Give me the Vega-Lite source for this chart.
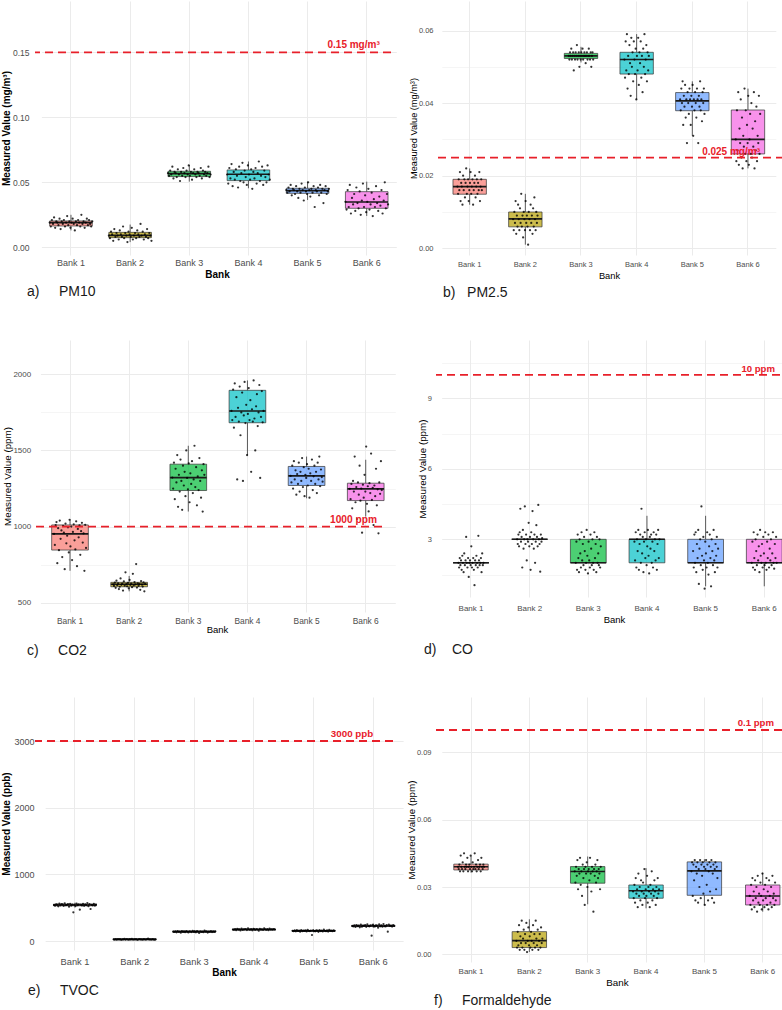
{
  "$schema": "https://vega.github.io/schema/vega-lite/v6.json",
  "background": "white",
  "padding": {"left": 1, "top": 1, "right": 0, "bottom": 0},
  "bounds": "flush",
  "columns": 2,
  "align": {"row": "each", "column": "none"},
  "spacing": {"row": 85, "column": 43},
  "config": {
    "view": {"stroke": null},
    "font": "Liberation Sans",
    "axis": {"ticks": false, "tickSize": 0, "domain": false, "labelFont": "Liberation Sans", "titleFont": "Liberation Sans", "labelColor": "#4D4D4D", "titleColor": "#000000", "gridColor": "#EBEBEB"},
    "title": {"font": "Liberation Sans"},
    "circle": {"size": 5, "color": "#000000", "opacity": 0.8}
  },
  "datasets": {
    "pm10_box": [
      {"bank": "Bank 1", "lo": 0.013, "q1": 0.0164, "med": 0.019, "q3": 0.0203, "hi": 0.025},
      {"bank": "Bank 2", "lo": 0.004, "q1": 0.0074, "med": 0.0092, "q3": 0.0115, "hi": 0.0175},
      {"bank": "Bank 3", "lo": 0.0505, "q1": 0.0544, "med": 0.0567, "q3": 0.0585, "hi": 0.0633},
      {"bank": "Bank 4", "lo": 0.0454, "q1": 0.0513, "med": 0.0562, "q3": 0.0595, "hi": 0.066},
      {"bank": "Bank 5", "lo": 0.0364, "q1": 0.0415, "med": 0.0436, "q3": 0.0454, "hi": 0.0505},
      {"bank": "Bank 6", "lo": 0.0241, "q1": 0.030, "med": 0.0349, "q3": 0.0428, "hi": 0.0505}
    ],
    "pm10_pts": [
      {"bank": "Bank 1", "v": [0.019,0.016,0.021,0.018,0.023,0.015,0.020,0.019,0.017,0.022,0.014,0.020,0.018,0.021,0.016,0.019,0.024,0.017,0.020,0.015,0.019,0.022,0.018,0.013,0.020,0.017,0.021,0.019,0.016,0.025,0.018,0.020,0.015,0.019,0.022,0.017,0.021,0.018,0.016,0.020]},
      {"bank": "Bank 2", "v": [0.009,0.007,0.012,0.010,0.005,0.014,0.008,0.011,0.009,0.006,0.013,0.010,0.008,0.016,0.007,0.011,0.009,0.004,0.012,0.010,0.008,0.015,0.006,0.009,0.011,0.007,0.013,0.010,0.008,0.018,0.009,0.012,0.006,0.010,0.008,0.014,0.007,0.011,0.009,0.005]},
      {"bank": "Bank 3", "v": [0.057,0.055,0.059,0.056,0.062,0.053,0.058,0.057,0.054,0.060,0.056,0.051,0.058,0.055,0.061,0.057,0.054,0.059,0.056,0.063,0.055,0.058,0.052,0.057,0.060,0.056,0.054,0.058,0.057,0.055,0.061,0.053,0.059,0.056,0.058,0.055,0.057,0.062,0.054,0.056]},
      {"bank": "Bank 4", "v": [0.056,0.049,0.061,0.053,0.064,0.047,0.058,0.052,0.060,0.055,0.046,0.062,0.051,0.057,0.065,0.050,0.059,0.054,0.048,0.063,0.056,0.052,0.060,0.045,0.058,0.053,0.061,0.049,0.057,0.066,0.051,0.055,0.062,0.048,0.059,0.054,0.050,0.063,0.056,0.052]},
      {"bank": "Bank 5", "v": [0.044,0.042,0.046,0.043,0.048,0.040,0.045,0.044,0.041,0.047,0.043,0.038,0.045,0.042,0.049,0.044,0.036,0.046,0.043,0.041,0.050,0.044,0.039,0.045,0.042,0.047,0.031,0.044,0.043,0.046,0.040,0.048,0.042,0.045,0.034,0.044,0.047,0.041,0.043,0.045]},
      {"bank": "Bank 6", "v": [0.035,0.029,0.044,0.031,0.048,0.026,0.038,0.033,0.041,0.028,0.046,0.034,0.030,0.043,0.025,0.036,0.049,0.031,0.040,0.027,0.035,0.045,0.029,0.033,0.042,0.024,0.037,0.031,0.047,0.034,0.028,0.039,0.032,0.044,0.026,0.036,0.050,0.030,0.041,0.033]}
    ],
    "pm25_box": [
      {"bank": "Bank 1", "lo": 0.012, "q1": 0.0149, "med": 0.017, "q3": 0.019, "hi": 0.022},
      {"bank": "Bank 2", "lo": 0.001, "q1": 0.0059, "med": 0.0081, "q3": 0.010, "hi": 0.015},
      {"bank": "Bank 3", "lo": 0.0512, "q1": 0.0523, "med": 0.053, "q3": 0.0537, "hi": 0.0555},
      {"bank": "Bank 4", "lo": 0.041, "q1": 0.048, "med": 0.052, "q3": 0.054, "hi": 0.059},
      {"bank": "Bank 5", "lo": 0.031, "q1": 0.0379, "med": 0.0406, "q3": 0.0429, "hi": 0.046},
      {"bank": "Bank 6", "lo": 0.022, "q1": 0.026, "med": 0.030, "q3": 0.0381, "hi": 0.044}
    ],
    "pm25_pts": [
      {"bank": "Bank 1", "v": [0.017,0.015,0.019,0.016,0.021,0.013,0.018,0.017,0.012,0.020,0.016,0.019,0.014,0.018,0.022,0.015,0.017,0.019,0.013,0.016,0.018,0.021,0.015,0.017,0.019,0.012,0.016,0.018,0.020,0.014,0.017,0.019,0.015,0.018,0.016,0.021,0.013,0.017,0.019,0.016]},
      {"bank": "Bank 2", "v": [0.008,0.005,0.010,0.007,0.013,0.004,0.009,0.006,0.012,0.008,0.005,0.011,0.007,0.015,0.006,0.009,0.003,0.010,0.008,0.005,0.013,0.007,0.009,0.006,0.001,0.010,0.008,0.005,0.012,0.007,0.009,0.004,0.011,0.006,0.014,0.008,0.005,0.010,0.007,0.009]},
      {"bank": "Bank 3", "v": [0.053,0.052,0.054,0.053,0.055,0.052,0.053,0.054,0.049,0.053,0.052,0.054,0.053,0.056,0.052,0.053,0.054,0.050,0.053,0.052,0.054,0.053,0.055,0.052,0.053,0.054,0.053,0.051,0.053,0.054,0.052,0.053,0.055,0.053,0.052,0.054,0.050,0.053,0.054,0.052]},
      {"bank": "Bank 4", "v": [0.052,0.047,0.057,0.049,0.059,0.044,0.053,0.048,0.056,0.051,0.042,0.058,0.050,0.054,0.046,0.057,0.052,0.048,0.055,0.041,0.053,0.049,0.058,0.045,0.054,0.051,0.057,0.047,0.053,0.043,0.055,0.050,0.059,0.048,0.052,0.056,0.046,0.054,0.049,0.053]},
      {"bank": "Bank 5", "v": [0.041,0.038,0.044,0.040,0.046,0.034,0.042,0.039,0.045,0.036,0.041,0.029,0.043,0.040,0.037,0.044,0.041,0.034,0.042,0.039,0.045,0.031,0.041,0.038,0.043,0.040,0.036,0.044,0.041,0.029,0.042,0.039,0.046,0.038,0.041,0.035,0.043,0.040,0.044,0.037]},
      {"bank": "Bank 6", "v": [0.030,0.024,0.038,0.027,0.043,0.023,0.033,0.029,0.041,0.025,0.036,0.022,0.031,0.028,0.044,0.026,0.038,0.024,0.034,0.029,0.042,0.023,0.030,0.037,0.026,0.040,0.025,0.033,0.028,0.043,0.022,0.035,0.027,0.039,0.024,0.031,0.029,0.042,0.026,0.037]}
    ],
    "co2_box": [
      {"bank": "Bank 1", "lo": 710, "q1": 846, "med": 952, "q3": 1011, "hi": 1045},
      {"bank": "Bank 2", "lo": 575, "q1": 605, "med": 621, "q3": 634, "hi": 676},
      {"bank": "Bank 3", "lo": 1099, "q1": 1237, "med": 1322, "q3": 1410, "hi": 1531},
      {"bank": "Bank 4", "lo": 1467, "q1": 1682, "med": 1759, "q3": 1895, "hi": 1960},
      {"bank": "Bank 5", "lo": 1186, "q1": 1270, "med": 1333, "q3": 1395, "hi": 1460},
      {"bank": "Bank 6", "lo": 1066, "q1": 1171, "med": 1248, "q3": 1285, "hi": 1439}
    ],
    "co2_pts": [
      {"bank": "Bank 1", "v": [952,880,1010,1030,760,990,845,1040,920,975,800,1005,960,720,1020,890,940,995,830,1045,870,1000,780,965,1015,910,850,1035,740,985,930,1008,815,970,1025,895,955,710,1012,860]},
      {"bank": "Bank 2", "v": [621,610,632,598,645,615,627,590,605,660,618,625,580,640,612,700,622,608,630,595,650,617,626,602,690,614,636,620,754,600,628,611,623,585,642,619,606,633,575,624]},
      {"bank": "Bank 3", "v": [1322,1250,1420,1180,1380,1290,1470,1130,1340,1230,1440,1300,1110,1400,1270,1360,1200,1500,1320,1245,1415,1160,1350,1280,1430,1220,1310,1531,1260,1390,1140,1330,1240,1450,1300,1190,1370,1099,1410,1340]},
      {"bank": "Bank 4", "v": [1760,1700,1900,1650,1940,1720,1850,1310,1780,1690,1920,1600,1750,1880,1300,1730,1950,1680,1800,1470,1740,1910,1700,1830,1360,1770,1690,1960,1710,1500,1790,1870,1660,1750,1930,1320,1720,1890,1685,1760]},
      {"bank": "Bank 5", "v": [1333,1290,1400,1250,1430,1310,1370,1210,1345,1280,1420,1230,1360,1300,1450,1260,1390,1200,1340,1320,1410,1270,1380,1190,1350,1300,1440,1240,1330,1400,1280,1360,1220,1420,1310,1460,1265,1375,1325,1295]},
      {"bank": "Bank 6", "v": [1248,1180,1280,1120,1300,1230,1460,1160,1260,1050,1290,1210,1400,1170,1250,960,1275,1190,1340,1230,1526,1150,1265,1100,1285,1220,1480,1175,1255,1010,1270,1200,1380,1140,1245,956,1290,1215,1430,1240]}
    ],
    "co_box": [
      {"bank": "Bank 1", "lo": 2, "q1": 2, "med": 2, "q3": 2, "hi": 2},
      {"bank": "Bank 2", "lo": 3, "q1": 3, "med": 3, "q3": 3, "hi": 3},
      {"bank": "Bank 3", "lo": 2, "q1": 2, "med": 2, "q3": 3, "hi": 3},
      {"bank": "Bank 4", "lo": 2, "q1": 2, "med": 3, "q3": 3, "hi": 4},
      {"bank": "Bank 5", "lo": 1, "q1": 2, "med": 2, "q3": 3, "hi": 4},
      {"bank": "Bank 6", "lo": 1, "q1": 2, "med": 2, "q3": 3, "hi": 3}
    ],
    "co_pts": [
      {"bank": "Bank 1", "v": [2.0,1.8,2.2,1.9,2.1,1.7,2.3,2.0,1.6,2.4,1.9,2.1,3.1,2.0,1.8,2.2,1.4,2.0,2.1,1.9,2.7,1.8,2.0,2.2,1.7,1.05,2.1,1.9,2.3,2.0,1.8,3.15,2.1,1.9,2.0,2.2,1.6,2.4,1.9,2.0]},
      {"bank": "Bank 2", "v": [3.0,2.8,3.2,2.7,3.3,4.3,2.9,3.1,1.8,3.4,2.6,3.0,4.4,2.8,3.2,2.1,3.0,2.9,3.7,2.7,3.1,1.7,3.3,2.8,4.2,3.0,2.6,3.2,2.0,2.9,3.6,3.1,2.7,4.46,3.0,2.8,1.62,3.2,2.9,3.05]},
      {"bank": "Bank 3", "v": [2.0,2.9,1.7,3.2,2.2,1.6,3.0,2.4,1.8,3.3,2.1,2.8,1.9,3.1,2.5,1.7,2.0,3.4,2.3,1.55,2.9,2.1,1.8,3.2,2.6,1.9,3.0,2.0,1.7,3.3,2.2,2.8,1.6,3.1,2.0,2.4,1.9,3.0,1.8,2.7]},
      {"bank": "Bank 4", "v": [2.9,2.1,3.3,1.8,3.0,2.5,3.4,1.7,2.8,3.2,2.0,4.3,2.4,3.1,1.6,2.9,3.3,2.2,3.0,1.9,2.7,3.4,2.3,1.55,3.1,2.6,3.2,2.0,2.9,1.8,3.3,2.5,3.0,2.1,3.2,1.7,2.8,3.4,2.2,3.0]},
      {"bank": "Bank 5", "v": [2.5,1.8,3.2,2.0,3.3,1.6,2.8,2.2,3.4,1.1,2.6,3.0,1.9,4.4,2.3,1.7,3.1,2.1,0.9,2.9,2.4,1.8,3.3,2.0,1.5,2.7,3.2,2.2,1.0,3.0,2.5,1.9,3.4,2.1,1.6,2.8,2.3,3.1,1.8,2.6]},
      {"bank": "Bank 6", "v": [2.0,2.9,1.8,3.3,2.2,1.7,3.0,2.5,1.9,3.2,2.1,2.7,1.6,3.4,2.3,2.0,2.8,1.8,3.1,2.4,1.9,3.3,2.0,1.7,2.9,2.2,3.2,1.8,2.6,2.1,3.0,1.9,2.4,3.3,2.0,1.75,2.8,2.2,3.1,2.0]}
    ],
    "tvoc_box": [
      {"bank": "Bank 1", "lo": 500, "q1": 528, "med": 541, "q3": 553, "hi": 575},
      {"bank": "Bank 2", "lo": 15, "q1": 22, "med": 25, "q3": 28, "hi": 35},
      {"bank": "Bank 3", "lo": 120, "q1": 135, "med": 140, "q3": 146, "hi": 160},
      {"bank": "Bank 4", "lo": 155, "q1": 167, "med": 172, "q3": 178, "hi": 195},
      {"bank": "Bank 5", "lo": 130, "q1": 147, "med": 152, "q3": 158, "hi": 175},
      {"bank": "Bank 6", "lo": 195, "q1": 218, "med": 226, "q3": 236, "hi": 262}
    ],
    "tvoc_pts": [
      {"bank": "Bank 1", "v": [540,530,550,545,520,560,535,555,548,528,565,538,543,552,515,558,532,546,430,541,525,562,537,550,470,544,533,556,527,549,539,570,522,553,480,542,536,557,531,547]},
      {"bank": "Bank 2", "v": [25,22,28,20,30,24,27,18,26,23,32,21,29,25,19,27,24,31,22,26,25,28,17,23,30,24,26,20,29,25,22,27,35,23,26,21,28,24,19,25]},
      {"bank": "Bank 3", "v": [140,135,145,130,148,138,142,125,150,136,144,133,147,139,128,146,141,134,152,137,143,131,149,140,120,145,136,142,132,155,139,144,127,141,137,148,134,143,138,146]},
      {"bank": "Bank 4", "v": [172,168,178,162,182,170,175,158,185,166,176,173,180,164,190,171,169,177,160,183,174,167,179,172,155,181,170,176,165,188,173,168,178,163,184,171,175,169,180,172]},
      {"bank": "Bank 5", "v": [152,148,158,145,162,150,155,140,165,147,157,151,160,143,168,153,149,156,90,161,150,146,158,154,138,163,149,155,144,170,152,147,159,142,166,151,156,148,160,153]},
      {"bank": "Bank 6", "v": [225,218,235,210,240,222,230,205,245,215,232,227,238,212,250,224,220,234,80,242,226,216,236,229,200,248,221,233,214,255,223,219,237,140,246,228,231,217,239,226]}
    ],
    "hcho_box": [
      {"bank": "Bank 1", "lo": 0.0364, "q1": 0.0376, "med": 0.039, "q3": 0.0402, "hi": 0.0438},
      {"bank": "Bank 2", "lo": 0.001, "q1": 0.003, "med": 0.0061, "q3": 0.0101, "hi": 0.0156},
      {"bank": "Bank 3", "lo": 0.0223, "q1": 0.0317, "med": 0.0369, "q3": 0.0391, "hi": 0.0436},
      {"bank": "Bank 4", "lo": 0.0205, "q1": 0.025, "med": 0.0283, "q3": 0.0309, "hi": 0.0384},
      {"bank": "Bank 5", "lo": 0.022, "q1": 0.0263, "med": 0.0372, "q3": 0.0412, "hi": 0.0424},
      {"bank": "Bank 6", "lo": 0.019, "q1": 0.022, "med": 0.026, "q3": 0.0309, "hi": 0.0364}
    ],
    "hcho_pts": [
      {"bank": "Bank 1", "v": [0.039,0.038,0.040,0.037,0.044,0.039,0.038,0.041,0.037,0.045,0.039,0.038,0.040,0.039,0.043,0.037,0.039,0.040,0.038,0.044,0.039,0.037,0.041,0.038,0.039,0.045,0.038,0.040,0.037,0.039,0.042,0.038,0.039,0.040,0.037,0.043,0.039,0.038,0.040,0.039]},
      {"bank": "Bank 2", "v": [0.006,0.003,0.010,0.004,0.013,0.002,0.008,0.005,0.015,0.003,0.007,0.011,0.002,0.009,0.005,0.014,0.001,0.006,0.012,0.004,0.008,0.003,0.010,0.006,0.002,0.013,0.005,0.009,0.003,0.015,0.007,0.004,0.011,0.002,0.006,0.009,0.003,0.012,0.005,0.007]},
      {"bank": "Bank 3", "v": [0.037,0.032,0.039,0.035,0.042,0.029,0.038,0.036,0.043,0.031,0.037,0.026,0.040,0.034,0.038,0.022,0.039,0.036,0.041,0.030,0.037,0.038,0.033,0.043,0.036,0.028,0.039,0.037,0.019,0.038,0.035,0.040,0.032,0.037,0.042,0.034,0.038,0.036,0.029,0.039]},
      {"bank": "Bank 4", "v": [0.028,0.025,0.031,0.023,0.034,0.027,0.029,0.021,0.036,0.026,0.030,0.024,0.033,0.028,0.022,0.032,0.027,0.038,0.025,0.029,0.026,0.035,0.023,0.030,0.028,0.021,0.031,0.027,0.037,0.024,0.029,0.026,0.033,0.028,0.022,0.030,0.025,0.034,0.027,0.029]},
      {"bank": "Bank 5", "v": [0.037,0.041,0.026,0.040,0.033,0.042,0.024,0.039,0.036,0.041,0.023,0.038,0.030,0.042,0.025,0.040,0.035,0.041,0.027,0.039,0.022,0.038,0.042,0.031,0.040,0.024,0.037,0.041,0.028,0.039,0.042,0.025,0.036,0.040,0.023,0.038,0.041,0.029,0.039,0.034]},
      {"bank": "Bank 6", "v": [0.026,0.022,0.031,0.020,0.034,0.024,0.028,0.021,0.033,0.025,0.030,0.019,0.035,0.023,0.027,0.022,0.032,0.026,0.020,0.036,0.024,0.029,0.021,0.031,0.025,0.034,0.022,0.028,0.020,0.033,0.026,0.023,0.030,0.021,0.035,0.025,0.027,0.022,0.032,0.024]}
    ]
  },
  "concat": [
    {
      "width": 356, "height": 254,
      "title": {"text": "a)\u00a0\u00a0\u00a0\u00a0\u00a0PM10", "orient": "bottom", "anchor": "start", "frame": "group", "fontSize": 14, "fontWeight": "normal", "color": "#1A1A1A", "dx": -8, "offset": 6},
      "resolve": {"scale": {"xOffset": "independent"}},
      "layer": [
        {
          "data": {"name": "pm10_box"},
          "mark": {"type": "rule", "color": "#333333", "strokeWidth": 0.8},
          "encoding": {
            "x": {"field": "bank", "type": "nominal",
              "scale": {"type": "band", "domain": ["Bank 1", "Bank 2", "Bank 3", "Bank 4", "Bank 5", "Bank 6"], "range": [6.4, 361.3], "paddingInner": 0, "paddingOuter": 0},
              "axis": {"title": "Bank", "titleFontSize": 10, "titleFontWeight": "bold", "titleX": 182, "titleY": 19, "titleBaseline": "middle", "labelAngle": 0, "labelFontSize": 9, "labelBaseline": "middle", "labelPadding": 7, "grid": true, "gridWidth": 1, "bandPosition": 0.5}},
            "y": {"field": "lo", "type": "quantitative",
              "scale": {"domain": [-0.00592, 0.18946], "nice": false, "zero": false},
              "axis": {"title": "Measured Value (mg/m³)", "titleFontSize": 10, "titleFontWeight": "bold", "titleX": -29, "titleBaseline": "middle",
                "values": [0, 0.025, 0.05, 0.075, 0.1, 0.125, 0.15, 0.175],
                "labelExpr": "abs(datum.value*20 - round(datum.value*20)) < 0.001 ? format(datum.value, '.2f') : ''",
                "labelFontSize": 8.5, "labelPadding": 6, "grid": true,
                "gridWidth": {"condition": {"test": "abs(datum.value*20 - round(datum.value*20)) > 0.001", "value": 0.5}, "value": 1}}},
            "y2": {"field": "q1"}
          }
        },
        {
          "data": {"name": "pm10_box"},
          "mark": {"type": "rule", "color": "#333333", "strokeWidth": 0.8},
          "encoding": {"x": {"field": "bank", "type": "nominal"}, "y": {"field": "q3", "type": "quantitative"}, "y2": {"field": "hi"}}
        },
        {
          "data": {"name": "pm10_box"},
          "mark": {"type": "bar", "width": {"band": 0.72}, "fillOpacity": 0.7, "stroke": "#333333", "strokeWidth": 0.7},
          "encoding": {
            "x": {"field": "bank", "type": "nominal"},
            "y": {"field": "q1", "type": "quantitative"},
            "y2": {"field": "q3"},
            "fill": {"field": "bank", "type": "nominal", "scale": {"domain": ["Bank 1", "Bank 2", "Bank 3", "Bank 4", "Bank 5", "Bank 6"], "range": ["#F8766D", "#B79F00", "#00BA38", "#00BFC4", "#619CFF", "#F564E3"]}, "legend": null}
          }
        },
        {
          "data": {"name": "pm10_box"},
          "mark": {"type": "bar", "width": {"band": 0.72}, "fillOpacity": 0, "stroke": "#1A1A1A", "strokeWidth": 1.6},
          "encoding": {"x": {"field": "bank", "type": "nominal"}, "y": {"field": "med", "type": "quantitative"}, "y2": {"field": "med"}}
        },
        {
          "data": {"name": "pm10_pts"},
          "transform": [{"flatten": ["v"]}, {"window": [{"op": "row_number", "as": "i"}], "groupby": ["bank"]}],
          "mark": {"type": "circle"},
          "encoding": {
            "x": {"field": "bank", "type": "nominal"},
            "xOffset": {"field": "i", "type": "quantitative", "scale": {"domain": [1, 40], "range": [8.3, 50.9]}},
            "y": {"field": "v", "type": "quantitative"}
          }
        },
        {
          "data": {"values": [{"t": 0.15, "lab": "0.15 mg/m³"}]},
          "mark": {"type": "rule", "color": "#E8202A", "strokeWidth": 1.8, "strokeDash": [8, 5]},
          "encoding": {"y": {"field": "t", "type": "quantitative"}}
        },
        {
          "data": {"values": [{"t": 0.15, "lab": "0.15 mg/m³"}]},
          "mark": {"type": "text", "align": "right", "baseline": "middle", "dx": 13, "dy": -7, "fontSize": 10, "fontWeight": "bold", "color": "#E8202A"},
          "encoding": {"x": {"datum": "Bank 6", "type": "nominal"}, "y": {"field": "t", "type": "quantitative"}, "text": {"field": "lab", "type": "nominal"}}
        }
      ]
    },
    {
      "width": 348, "height": 254,
      "title": {"text": "b)\u00a0\u00a0\u00a0PM2.5", "orient": "bottom", "anchor": "start", "frame": "group", "fontSize": 14, "fontWeight": "normal", "color": "#1A1A1A", "dx": 7, "offset": 6},
      "resolve": {"scale": {"xOffset": "independent"}},
      "layer": [
        {
          "data": {"name": "pm25_box"},
          "mark": {"type": "rule", "color": "#333333", "strokeWidth": 0.8},
          "encoding": {
            "x": {"field": "bank", "type": "nominal",
              "scale": {"type": "band", "domain": ["Bank 1", "Bank 2", "Bank 3", "Bank 4", "Bank 5", "Bank 6"], "range": [5.85, 339.8], "paddingInner": 0, "paddingOuter": 0},
              "axis": {"title": "Bank", "titleFontSize": 9.3, "titleFontWeight": "normal", "titleX": 173, "titleY": 20, "titleBaseline": "middle", "labelAngle": 0, "labelFontSize": 7.5, "labelBaseline": "middle", "labelPadding": 9, "grid": true, "gridWidth": 1, "bandPosition": 0.5}},
            "y": {"field": "lo", "type": "quantitative",
              "scale": {"domain": [-0.00185, 0.06813], "nice": false, "zero": false},
              "axis": {"title": "Measured Value (mg/m³)", "titleFontSize": 9.2, "titleFontWeight": "normal", "titleX": -23, "titleBaseline": "middle",
                "values": [0, 0.01, 0.02, 0.03, 0.04, 0.05, 0.06],
                "labelExpr": "abs(datum.value*50 - round(datum.value*50)) < 0.001 ? format(datum.value, '.2f') : ''",
                "labelFontSize": 7.5, "labelPadding": 3, "grid": true,
                "gridWidth": {"condition": {"test": "abs(datum.value*50 - round(datum.value*50)) > 0.001", "value": 0.5}, "value": 1}}},
            "y2": {"field": "q1"}
          }
        },
        {
          "data": {"name": "pm25_box"},
          "mark": {"type": "rule", "color": "#333333", "strokeWidth": 0.8},
          "encoding": {"x": {"field": "bank", "type": "nominal"}, "y": {"field": "q3", "type": "quantitative"}, "y2": {"field": "hi"}}
        },
        {
          "data": {"name": "pm25_box"},
          "mark": {"type": "bar", "width": {"band": 0.6}, "fillOpacity": 0.7, "stroke": "#333333", "strokeWidth": 0.7},
          "encoding": {
            "x": {"field": "bank", "type": "nominal"},
            "y": {"field": "q1", "type": "quantitative"},
            "y2": {"field": "q3"},
            "fill": {"field": "bank", "type": "nominal", "scale": {"domain": ["Bank 1", "Bank 2", "Bank 3", "Bank 4", "Bank 5", "Bank 6"], "range": ["#F8766D", "#B79F00", "#00BA38", "#00BFC4", "#619CFF", "#F564E3"]}, "legend": null}
          }
        },
        {
          "data": {"name": "pm25_box"},
          "mark": {"type": "bar", "width": {"band": 0.6}, "fillOpacity": 0, "stroke": "#1A1A1A", "strokeWidth": 1.6},
          "encoding": {"x": {"field": "bank", "type": "nominal"}, "y": {"field": "med", "type": "quantitative"}, "y2": {"field": "med"}}
        },
        {
          "data": {"name": "pm25_pts"},
          "transform": [{"flatten": ["v"]}, {"window": [{"op": "row_number", "as": "i"}], "groupby": ["bank"]}],
          "mark": {"type": "circle"},
          "encoding": {
            "x": {"field": "bank", "type": "nominal"},
            "xOffset": {"field": "i", "type": "quantitative", "scale": {"domain": [1, 40], "range": [15.6, 40.0]}},
            "y": {"field": "v", "type": "quantitative"}
          }
        },
        {
          "data": {"values": [{"t": 0.025, "lab": "0.025 mg/m³"}]},
          "mark": {"type": "rule", "color": "#E8202A", "strokeWidth": 1.8, "strokeDash": [8, 5]},
          "encoding": {"y": {"field": "t", "type": "quantitative"}}
        },
        {
          "data": {"values": [{"t": 0.025, "lab": "0.025 mg/m³"}]},
          "mark": {"type": "text", "align": "right", "baseline": "middle", "dx": 12, "dy": -5.8, "fontSize": 10, "fontWeight": "bold", "color": "#E8202A"},
          "encoding": {"x": {"datum": "Bank 6", "type": "nominal"}, "y": {"field": "t", "type": "quantitative"}, "text": {"field": "lab", "type": "nominal"}}
        }
      ]
    },
    {
      "width": 347, "height": 272,
      "title": {"text": "c)\u00a0\u00a0\u00a0\u00a0\u00a0CO2", "orient": "bottom", "anchor": "start", "frame": "group", "fontSize": 14, "fontWeight": "normal", "color": "#1A1A1A", "dx": -8, "offset": 10},
      "resolve": {"scale": {"xOffset": "independent"}},
      "layer": [
        {
          "data": {"name": "co2_box"},
          "mark": {"type": "rule", "color": "#333333", "strokeWidth": 0.8},
          "encoding": {
            "x": {"field": "bank", "type": "nominal",
              "scale": {"type": "band", "domain": ["Bank 1", "Bank 2", "Bank 3", "Bank 4", "Bank 5", "Bank 6"], "range": [5.43, 360.3], "paddingInner": 0, "paddingOuter": 0},
              "axis": {"title": "Bank", "titleFontSize": 9.5, "titleFontWeight": "normal", "titleX": 182, "titleY": 17, "titleBaseline": "middle", "labelAngle": 0, "labelFontSize": 8.4, "labelBaseline": "middle", "labelPadding": 8, "grid": true, "gridWidth": 1, "bandPosition": 0.5}},
            "y": {"field": "lo", "type": "quantitative",
              "scale": {"domain": [439.2, 2225.5], "nice": false, "zero": false},
              "axis": {"title": "Measured Value (ppm)", "titleFontSize": 9.8, "titleFontWeight": "normal", "titleX": -28, "titleBaseline": "middle",
                "values": [500, 750, 1000, 1250, 1500, 1750, 2000],
                "labelExpr": "datum.value % 500 == 0 ? format(datum.value, 'd') : ''",
                "labelFontSize": 8, "labelPadding": 4.3, "grid": true,
                "gridWidth": {"condition": {"test": "datum.value % 500 != 0", "value": 0.5}, "value": 1}}},
            "y2": {"field": "q1"}
          }
        },
        {
          "data": {"name": "co2_box"},
          "mark": {"type": "rule", "color": "#333333", "strokeWidth": 0.8},
          "encoding": {"x": {"field": "bank", "type": "nominal"}, "y": {"field": "q3", "type": "quantitative"}, "y2": {"field": "hi"}}
        },
        {
          "data": {"name": "co2_box"},
          "mark": {"type": "bar", "width": {"band": 0.62}, "fillOpacity": 0.7, "stroke": "#333333", "strokeWidth": 0.7},
          "encoding": {
            "x": {"field": "bank", "type": "nominal"},
            "y": {"field": "q1", "type": "quantitative"},
            "y2": {"field": "q3"},
            "fill": {"field": "bank", "type": "nominal", "scale": {"domain": ["Bank 1", "Bank 2", "Bank 3", "Bank 4", "Bank 5", "Bank 6"], "range": ["#F8766D", "#B79F00", "#00BA38", "#00BFC4", "#619CFF", "#F564E3"]}, "legend": null}
          }
        },
        {
          "data": {"name": "co2_box"},
          "mark": {"type": "bar", "width": {"band": 0.62}, "fillOpacity": 0, "stroke": "#1A1A1A", "strokeWidth": 1.6},
          "encoding": {"x": {"field": "bank", "type": "nominal"}, "y": {"field": "med", "type": "quantitative"}, "y2": {"field": "med"}}
        },
        {
          "data": {"name": "co2_pts"},
          "transform": [{"flatten": ["v"]}, {"window": [{"op": "row_number", "as": "i"}], "groupby": ["bank"]}],
          "mark": {"type": "circle"},
          "encoding": {
            "x": {"field": "bank", "type": "nominal"},
            "xOffset": {"field": "i", "type": "quantitative", "scale": {"domain": [1, 40], "range": [13.6, 45.6]}},
            "y": {"field": "v", "type": "quantitative"}
          }
        },
        {
          "data": {"values": [{"t": 1000, "lab": "1000 ppm"}]},
          "mark": {"type": "rule", "color": "#E8202A", "strokeWidth": 1.8, "strokeDash": [8, 5]},
          "encoding": {"y": {"field": "t", "type": "quantitative"}}
        },
        {
          "data": {"values": [{"t": 1000, "lab": "1000 ppm"}]},
          "mark": {"type": "text", "align": "right", "baseline": "middle", "dx": 11.3, "dy": -6.6, "fontSize": 10.2, "fontWeight": "bold", "color": "#E8202A"},
          "encoding": {"x": {"datum": "Bank 6", "type": "nominal"}, "y": {"field": "t", "type": "quantitative"}, "text": {"field": "lab", "type": "nominal"}}
        }
      ]
    },
    {
      "width": 357, "height": 257,
      "title": {"text": "d)\u00a0\u00a0\u00a0\u00a0CO", "orient": "bottom", "anchor": "start", "frame": "group", "fontSize": 14, "fontWeight": "normal", "color": "#1A1A1A", "dx": -12, "offset": 19},
      "resolve": {"scale": {"xOffset": "independent"}},
      "layer": [
        {
          "data": {"name": "co_box"},
          "mark": {"type": "rule", "color": "#333333", "strokeWidth": 0.8},
          "encoding": {
            "x": {"field": "bank", "type": "nominal",
              "scale": {"type": "band", "domain": ["Bank 1", "Bank 2", "Bank 3", "Bank 4", "Bank 5", "Bank 6"], "range": [5.67, 357.6], "paddingInner": 0, "paddingOuter": 0},
              "axis": {"title": "Bank", "titleFontSize": 9.5, "titleFontWeight": "normal", "titleX": 178, "titleY": 22, "titleBaseline": "middle", "labelAngle": 0, "labelFontSize": 8, "labelBaseline": "middle", "labelPadding": 11, "grid": true, "gridWidth": 1, "bandPosition": 0.5}},
            "y": {"field": "lo", "type": "quantitative",
              "scale": {"domain": [0.545, 11.48], "nice": false, "zero": false},
              "axis": {"title": "Measured Value (ppm)", "titleFontSize": 9.8, "titleFontWeight": "normal", "titleX": -14, "titleBaseline": "middle",
                "values": [1.5, 3, 4.5, 6, 7.5, 9, 10.5],
                "labelExpr": "datum.value % 3 == 0 ? format(datum.value, 'd') : ''",
                "labelFontSize": 7.5, "labelPadding": 4.7, "grid": true,
                "gridWidth": {"condition": {"test": "datum.value % 3 != 0", "value": 0.5}, "value": 1}}},
            "y2": {"field": "q1"}
          }
        },
        {
          "data": {"name": "co_box"},
          "mark": {"type": "rule", "color": "#333333", "strokeWidth": 0.8},
          "encoding": {"x": {"field": "bank", "type": "nominal"}, "y": {"field": "q3", "type": "quantitative"}, "y2": {"field": "hi"}}
        },
        {
          "data": {"name": "co_box"},
          "mark": {"type": "bar", "width": {"band": 0.61}, "fillOpacity": 0.7, "stroke": "#333333", "strokeWidth": 0.7},
          "encoding": {
            "x": {"field": "bank", "type": "nominal"},
            "y": {"field": "q1", "type": "quantitative"},
            "y2": {"field": "q3"},
            "fill": {"field": "bank", "type": "nominal", "scale": {"domain": ["Bank 1", "Bank 2", "Bank 3", "Bank 4", "Bank 5", "Bank 6"], "range": ["#F8766D", "#B79F00", "#00BA38", "#00BFC4", "#619CFF", "#F564E3"]}, "legend": null}
          }
        },
        {
          "data": {"name": "co_box"},
          "mark": {"type": "bar", "width": {"band": 0.61}, "fillOpacity": 0, "stroke": "#1A1A1A", "strokeWidth": 1.6},
          "encoding": {"x": {"field": "bank", "type": "nominal"}, "y": {"field": "med", "type": "quantitative"}, "y2": {"field": "med"}}
        },
        {
          "data": {"name": "co_pts"},
          "transform": [{"flatten": ["v"]}, {"window": [{"op": "row_number", "as": "i"}], "groupby": ["bank"]}],
          "mark": {"type": "circle"},
          "encoding": {
            "x": {"field": "bank", "type": "nominal"},
            "xOffset": {"field": "i", "type": "quantitative", "scale": {"domain": [1, 40], "range": [16.8, 41.8]}},
            "y": {"field": "v", "type": "quantitative"}
          }
        },
        {
          "data": {"values": [{"t": 10, "lab": "10 ppm"}]},
          "mark": {"type": "rule", "color": "#E8202A", "strokeWidth": 1.8, "strokeDash": [8, 5]},
          "encoding": {"y": {"field": "t", "type": "quantitative"}}
        },
        {
          "data": {"values": [{"t": 10, "lab": "10 ppm"}]},
          "mark": {"type": "text", "align": "right", "baseline": "middle", "dx": 10.7, "dy": -5.6, "fontSize": 9.6, "fontWeight": "bold", "color": "#E8202A"},
          "encoding": {"x": {"datum": "Bank 6", "type": "nominal"}, "y": {"field": "t", "type": "quantitative"}, "text": {"field": "lab", "type": "nominal"}}
        }
      ]
    },
    {
      "width": 358, "height": 253,
      "title": {"text": "e)\u00a0\u00a0\u00a0\u00a0\u00a0TVOC", "orient": "bottom", "anchor": "start", "frame": "group", "fontSize": 14, "fontWeight": "normal", "color": "#1A1A1A", "dx": -7, "offset": 6},
      "resolve": {"scale": {"xOffset": "independent"}},
      "layer": [
        {
          "data": {"name": "tvoc_box"},
          "mark": {"type": "rule", "color": "#333333", "strokeWidth": 0.8},
          "encoding": {
            "x": {"field": "bank", "type": "nominal",
              "scale": {"type": "band", "domain": ["Bank 1", "Bank 2", "Bank 3", "Bank 4", "Bank 5", "Bank 6"], "range": [10.17, 368.1], "paddingInner": 0, "paddingOuter": 0},
              "axis": {"title": "Bank", "titleFontSize": 10, "titleFontWeight": "bold", "titleX": 189, "titleY": 22.7, "titleBaseline": "middle", "labelAngle": 0, "labelFontSize": 9.3, "labelBaseline": "middle", "labelPadding": 11.7, "grid": true, "gridWidth": 1, "bandPosition": 0.5}},
            "y": {"field": "lo", "type": "quantitative",
              "scale": {"domain": [-135, 3660], "nice": false, "zero": false},
              "axis": {"title": "Measured Value (ppb)", "titleFontSize": 10, "titleFontWeight": "bold", "titleX": -29, "titleBaseline": "middle",
                "values": [0, 500, 1000, 1500, 2000, 2500, 3000, 3500],
                "labelExpr": "datum.value % 1000 == 0 ? format(datum.value, 'd') : ''",
                "labelFontSize": 9, "labelPadding": 1, "grid": true,
                "gridWidth": {"condition": {"test": "datum.value % 1000 != 0", "value": 0.5}, "value": 1}}},
            "y2": {"field": "q1"}
          }
        },
        {
          "data": {"name": "tvoc_box"},
          "mark": {"type": "rule", "color": "#333333", "strokeWidth": 0.8},
          "encoding": {"x": {"field": "bank", "type": "nominal"}, "y": {"field": "q3", "type": "quantitative"}, "y2": {"field": "hi"}}
        },
        {
          "data": {"name": "tvoc_box"},
          "mark": {"type": "bar", "width": {"band": 0.72}, "fillOpacity": 0.7, "stroke": "#333333", "strokeWidth": 0.7},
          "encoding": {
            "x": {"field": "bank", "type": "nominal"},
            "y": {"field": "q1", "type": "quantitative"},
            "y2": {"field": "q3"},
            "fill": {"field": "bank", "type": "nominal", "scale": {"domain": ["Bank 1", "Bank 2", "Bank 3", "Bank 4", "Bank 5", "Bank 6"], "range": ["#F8766D", "#B79F00", "#00BA38", "#00BFC4", "#619CFF", "#F564E3"]}, "legend": null}
          }
        },
        {
          "data": {"name": "tvoc_box"},
          "mark": {"type": "bar", "width": {"band": 0.72}, "fillOpacity": 0, "stroke": "#1A1A1A", "strokeWidth": 1.6},
          "encoding": {"x": {"field": "bank", "type": "nominal"}, "y": {"field": "med", "type": "quantitative"}, "y2": {"field": "med"}}
        },
        {
          "data": {"name": "tvoc_pts"},
          "transform": [{"flatten": ["v"]}, {"window": [{"op": "row_number", "as": "i"}], "groupby": ["bank"]}],
          "mark": {"type": "circle"},
          "encoding": {
            "x": {"field": "bank", "type": "nominal"},
            "xOffset": {"field": "i", "type": "quantitative", "scale": {"domain": [1, 40], "range": [8.8, 50.8]}},
            "y": {"field": "v", "type": "quantitative"}
          }
        },
        {
          "data": {"values": [{"t": 3000, "lab": "3000 ppb"}]},
          "mark": {"type": "rule", "color": "#E8202A", "strokeWidth": 1.8, "strokeDash": [8, 5]},
          "encoding": {"y": {"field": "t", "type": "quantitative"}}
        },
        {
          "data": {"values": [{"t": 3000, "lab": "3000 ppb"}]},
          "mark": {"type": "text", "align": "right", "baseline": "middle", "dx": 0, "dy": -7, "fontSize": 9.8, "fontWeight": "bold", "color": "#E8202A"},
          "encoding": {"x": {"datum": "Bank 6", "type": "nominal"}, "y": {"field": "t", "type": "quantitative"}, "text": {"field": "lab", "type": "nominal"}}
        }
      ]
    },
    {
      "width": 346, "height": 265,
      "title": {"text": "f)\u00a0\u00a0\u00a0\u00a0\u00a0Formaldehyde", "orient": "bottom", "anchor": "start", "frame": "group", "fontSize": 14, "fontWeight": "normal", "color": "#1A1A1A", "dx": -2, "offset": 7},
      "resolve": {"scale": {"xOffset": "independent"}},
      "layer": [
        {
          "data": {"name": "hcho_box"},
          "mark": {"type": "rule", "color": "#333333", "strokeWidth": 0.8},
          "encoding": {
            "x": {"field": "bank", "type": "nominal",
              "scale": {"type": "band", "domain": ["Bank 1", "Bank 2", "Bank 3", "Bank 4", "Bank 5", "Bank 6"], "range": [5.83, 355.9], "paddingInner": 0, "paddingOuter": 0},
              "axis": {"title": "Bank", "titleFontSize": 9.8, "titleFontWeight": "normal", "titleX": 181, "titleY": 20.3, "titleBaseline": "middle", "labelAngle": 0, "labelFontSize": 8, "labelBaseline": "middle", "labelPadding": 9.7, "grid": true, "gridWidth": 1, "bandPosition": 0.5}},
            "y": {"field": "lo", "type": "quantitative",
              "scale": {"domain": [-0.00343, 0.1147], "nice": false, "zero": false},
              "axis": {"title": "Measured Value (ppm)", "titleFontSize": 9.8, "titleFontWeight": "normal", "titleX": -25, "titleBaseline": "middle",
                "values": [0, 0.015, 0.03, 0.045, 0.06, 0.075, 0.09, 0.105],
                "labelExpr": "abs(datum.value/0.03 - round(datum.value/0.03)) < 0.001 ? format(datum.value, '.2f') : ''",
                "labelFontSize": 7.5, "labelPadding": 5, "grid": true,
                "gridWidth": {"condition": {"test": "abs(datum.value/0.03 - round(datum.value/0.03)) > 0.001", "value": 0.5}, "value": 1}}},
            "y2": {"field": "q1"}
          }
        },
        {
          "data": {"name": "hcho_box"},
          "mark": {"type": "rule", "color": "#333333", "strokeWidth": 0.8},
          "encoding": {"x": {"field": "bank", "type": "nominal"}, "y": {"field": "q3", "type": "quantitative"}, "y2": {"field": "hi"}}
        },
        {
          "data": {"name": "hcho_box"},
          "mark": {"type": "bar", "width": {"band": 0.59}, "fillOpacity": 0.7, "stroke": "#333333", "strokeWidth": 0.7},
          "encoding": {
            "x": {"field": "bank", "type": "nominal"},
            "y": {"field": "q1", "type": "quantitative"},
            "y2": {"field": "q3"},
            "fill": {"field": "bank", "type": "nominal", "scale": {"domain": ["Bank 1", "Bank 2", "Bank 3", "Bank 4", "Bank 5", "Bank 6"], "range": ["#F8766D", "#B79F00", "#00BA38", "#00BFC4", "#619CFF", "#F564E3"]}, "legend": null}
          }
        },
        {
          "data": {"name": "hcho_box"},
          "mark": {"type": "bar", "width": {"band": 0.59}, "fillOpacity": 0, "stroke": "#1A1A1A", "strokeWidth": 1.6},
          "encoding": {"x": {"field": "bank", "type": "nominal"}, "y": {"field": "med", "type": "quantitative"}, "y2": {"field": "med"}}
        },
        {
          "data": {"name": "hcho_pts"},
          "transform": [{"flatten": ["v"]}, {"window": [{"op": "row_number", "as": "i"}], "groupby": ["bank"]}],
          "mark": {"type": "circle"},
          "encoding": {
            "x": {"field": "bank", "type": "nominal"},
            "xOffset": {"field": "i", "type": "quantitative", "scale": {"domain": [1, 40], "range": [16.2, 42.2]}},
            "y": {"field": "v", "type": "quantitative"}
          }
        },
        {
          "data": {"values": [{"t": 0.1, "lab": "0.1 ppm"}]},
          "mark": {"type": "rule", "color": "#E8202A", "strokeWidth": 1.8, "strokeDash": [8, 5]},
          "encoding": {"y": {"field": "t", "type": "quantitative"}}
        },
        {
          "data": {"values": [{"t": 0.1, "lab": "0.1 ppm"}]},
          "mark": {"type": "text", "align": "right", "baseline": "middle", "dx": 11.3, "dy": -7, "fontSize": 9.6, "fontWeight": "bold", "color": "#E8202A"},
          "encoding": {"x": {"datum": "Bank 6", "type": "nominal"}, "y": {"field": "t", "type": "quantitative"}, "text": {"field": "lab", "type": "nominal"}}
        }
      ]
    }
  ]
}
